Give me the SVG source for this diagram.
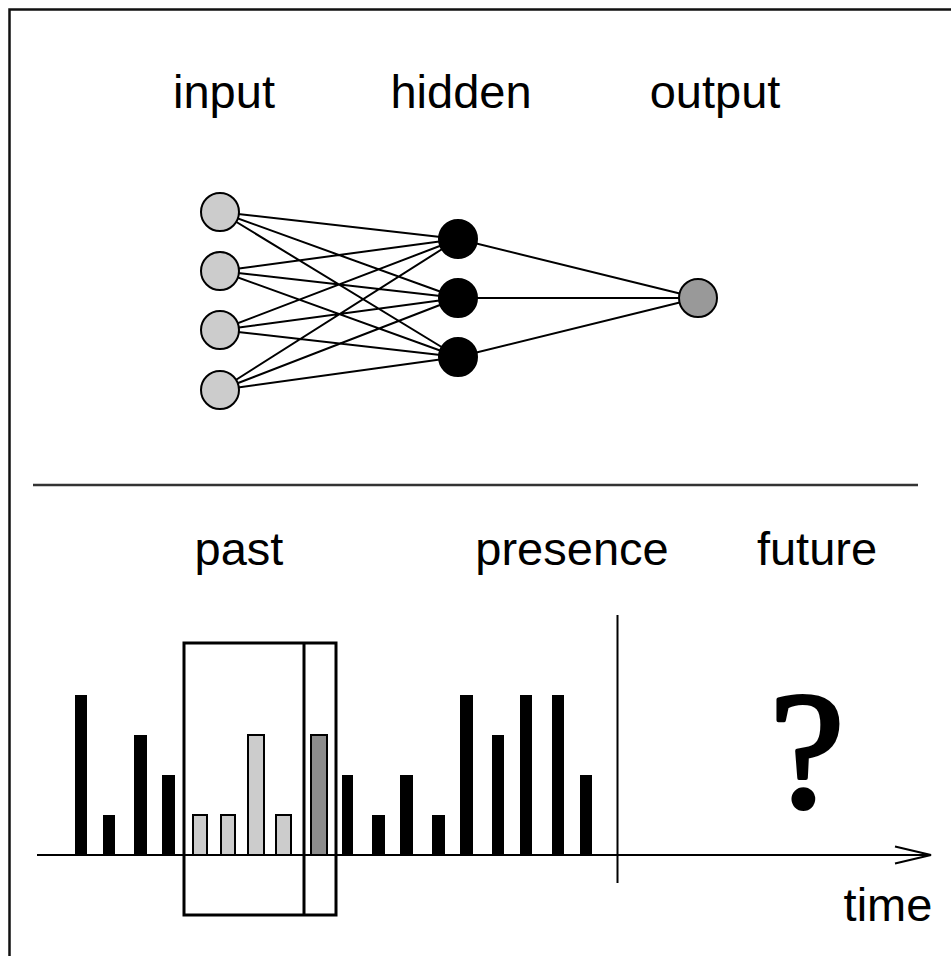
<svg xmlns="http://www.w3.org/2000/svg" width="951" height="956" viewBox="0 0 951 956">
<style>
.lbl{font-family:"Liberation Sans",Arial,sans-serif;font-size:47px;fill:#000;text-anchor:middle}
.edge{stroke:#000;stroke-width:2;fill:none}
.in{fill:#ccc;stroke:#000;stroke-width:2}
.hid{fill:#000;stroke:#000;stroke-width:2}
.out{fill:#999;stroke:#000;stroke-width:2}
.bar{fill:#000}
.lbar{fill:#ccc;stroke:#000;stroke-width:2}
.dbar{fill:#8c8c8c;stroke:#000;stroke-width:2}
</style>
<rect x="0" y="0" width="951" height="956" fill="#fff"/>
<path d="M9.5,956 V9.5 H951" fill="none" stroke="#111" stroke-width="2.5"/>
<g id="labels-top">
<text class="lbl" x="224" y="108">input</text>
<text class="lbl" x="461" y="108">hidden</text>
<text class="lbl" x="715" y="108">output</text>
</g>
<g id="connectors">
<path class="edge" d="M220,212 L458,239 M220,212 L458,298 M220,212 L458,357
M220,271 L458,239 M220,271 L458,298 M220,271 L458,357
M220,330 L458,239 M220,330 L458,298 M220,330 L458,357
M220,390 L458,239 M220,390 L458,298 M220,390 L458,357
M458,239 L698,298 M458,298 L698,298 M458,357 L698,298"/>
</g>
<g id="input-1"><circle class="in" cx="220" cy="212" r="19"/></g>
<g id="input-2"><circle class="in" cx="220" cy="271" r="19"/></g>
<g id="input-3"><circle class="in" cx="220" cy="330" r="19"/></g>
<g id="input-4"><circle class="in" cx="220" cy="390" r="19"/></g>
<g id="hidden-1"><circle class="hid" cx="458" cy="239" r="19"/></g>
<g id="hidden-2"><circle class="hid" cx="458" cy="298" r="19"/></g>
<g id="hidden-3"><circle class="hid" cx="458" cy="357" r="19"/></g>
<g id="output-1"><circle class="out" cx="698" cy="298" r="19"/></g>
<line x1="33" y1="485" x2="918" y2="485" stroke="#333" stroke-width="2.5"/>
<g id="labels-bottom">
<text class="lbl" x="239" y="565">past</text>
<text class="lbl" x="572" y="565">presence</text>
<text class="lbl" x="817" y="565">future</text>
<text class="lbl" x="888" y="921">time</text>
</g>
<g id="bars">
<rect class="bar" x="75" y="695" width="12" height="160"/>
<rect class="bar" x="103" y="815" width="12" height="40"/>
<rect class="bar" x="134" y="735" width="13" height="120"/>
<rect class="bar" x="162" y="775" width="13" height="80"/>
<rect class="lbar" x="193" y="815" width="14" height="40"/>
<rect class="lbar" x="221" y="815" width="14" height="40"/>
<rect class="lbar" x="248" y="735" width="16" height="120"/>
<rect class="lbar" x="276" y="815" width="15" height="40"/>
<rect class="dbar" x="311" y="735" width="16" height="120"/>
<rect class="bar" x="342" y="775" width="11" height="80"/>
<rect class="bar" x="372" y="815" width="13" height="40"/>
<rect class="bar" x="400" y="775" width="13" height="80"/>
<rect class="bar" x="432" y="815" width="13" height="40"/>
<rect class="bar" x="460" y="695" width="13" height="160"/>
<rect class="bar" x="492" y="735" width="12" height="120"/>
<rect class="bar" x="520" y="695" width="12" height="160"/>
<rect class="bar" x="552" y="695" width="12" height="160"/>
<rect class="bar" x="580" y="775" width="12" height="80"/>
</g>
<g id="window">
<rect x="184" y="643" width="152" height="272" fill="none" stroke="#000" stroke-width="3"/>
<line x1="304" y1="643" x2="304" y2="915" stroke="#000" stroke-width="3"/>
</g>
<g id="axis">
<line x1="37" y1="855" x2="931" y2="855" stroke="#000" stroke-width="2"/>
<polyline points="895,846.5 931,855 895,863.5" fill="none" stroke="#000" stroke-width="2"/>
<line x1="617.5" y1="615" x2="617.5" y2="883" stroke="#000" stroke-width="2"/>
</g>
<text x="807" y="807" font-family="'Liberation Serif','Times New Roman',serif" font-size="168" text-anchor="middle" fill="#000" stroke="#000" stroke-width="4" stroke-linejoin="round">?</text>
</svg>
